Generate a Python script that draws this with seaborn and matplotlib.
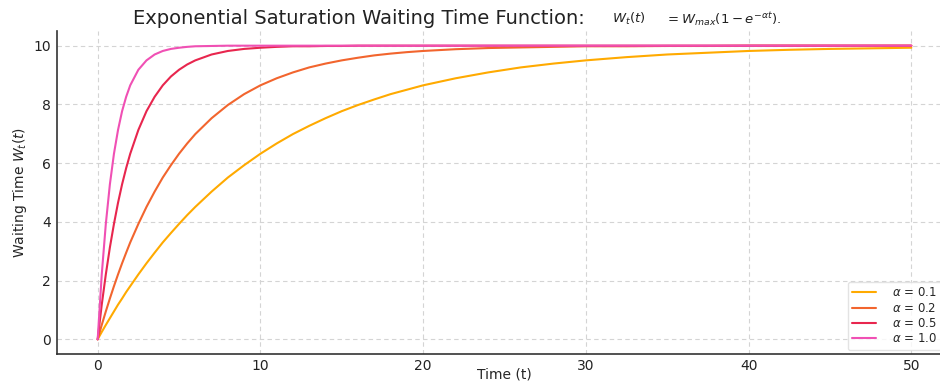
import numpy as np
import pandas as pd
import matplotlib
matplotlib.use("Agg")
import matplotlib.pyplot as plt
import seaborn as sns

# Time samples (t) and waiting-time values
t_vals = [0, 0.25, 0.5, 0.75, 1, 1.25, 1.5, 1.75, 2,
          2.5, 3, 3.5, 4, 4.5, 5, 5.5, 6,
          7, 8, 9, 10, 11, 12, 13, 14, 15, 16, 17, 18, 19, 20,
          22, 24, 26, 28, 30,
          32.5, 35, 37.5, 40, 42.5, 45, 47.5, 50]
w_a01 = [0, 0.25, 0.49, 0.72, 0.95, 1.18, 1.39, 1.61, 1.81,
         2.21, 2.59, 2.95, 3.30, 3.62, 3.93, 4.23, 4.51,
         5.03, 5.51, 5.93, 6.32, 6.67, 6.99, 7.27, 7.53, 7.77, 7.98, 8.17, 8.35, 8.50, 8.65,
         8.89, 9.09, 9.26, 9.39, 9.50,
         9.61, 9.70, 9.76, 9.82, 9.86, 9.89, 9.91, 9.93]
w_a02 = [0, 0.49, 0.95, 1.39, 1.81, 2.21, 2.59, 2.95, 3.30,
         3.93, 4.51, 5.03, 5.51, 5.93, 6.32, 6.67, 6.99,
         7.53, 7.98, 8.35, 8.65, 8.89, 9.09, 9.26, 9.39, 9.50, 9.59, 9.67, 9.73, 9.78, 9.82,
         9.88, 9.92, 9.94, 9.96, 9.98,
         9.98, 9.99, 9.99, 10.0, 10.0, 10.0, 10.0, 10.0]
w_a05 = [0, 1.18, 2.21, 3.13, 3.93, 4.65, 5.28, 5.83, 6.32,
         7.13, 7.77, 8.26, 8.65, 8.95, 9.18, 9.36, 9.50,
         9.70, 9.82, 9.89, 9.93, 9.96, 9.98, 9.98, 9.99, 9.99, 10.0, 10.0, 10.0, 10.0, 10.0,
         10.0, 10.0, 10.0, 10.0, 10.0,
         10.0, 10.0, 10.0, 10.0, 10.0, 10.0, 10.0, 10.0]
w_a10 = [0, 2.21, 3.93, 5.28, 6.32, 7.13, 7.77, 8.26, 8.65,
         9.18, 9.50, 9.70, 9.82, 9.89, 9.93, 9.96, 9.98,
         9.99, 10.0, 10.0, 10.0, 10.0, 10.0, 10.0, 10.0, 10.0, 10.0, 10.0, 10.0, 10.0, 10.0,
         10.0, 10.0, 10.0, 10.0, 10.0,
         10.0, 10.0, 10.0, 10.0, 10.0, 10.0, 10.0, 10.0]
series_labels = [r"$\alpha$ = 0.1", r"$\alpha$ = 0.2", r"$\alpha$ = 0.5", r"$\alpha$ = 1.0"]
series_colors = ["#FFAA00", "#F2652E", "#E8264E", "#F050B4"]

frames = []
for lab, vals in zip(series_labels, [w_a01, w_a02, w_a05, w_a10]):
    frames.append(pd.DataFrame({"t": t_vals, "W": vals, "series": lab}))
df = pd.concat(frames, ignore_index=True)

sns.set_style("white")
plt.rcParams["font.family"] = ["DejaVu Sans"]

fig = plt.figure(figsize=(9.4, 3.83), dpi=100)
ax = fig.add_axes([57 / 940, 1 - 354.0 / 383, 895 / 940, 323.0 / 383])

sns.lineplot(data=df, x="t", y="W", hue="series", hue_order=series_labels,
             palette=dict(zip(series_labels, series_colors)), linewidth=1.5,
             ax=ax, sort=False)

ax.set_xlim(-2.5, 52.5)
ax.set_ylim(-0.5, 10.5)
ax.set_xticks([0, 10, 20, 30, 40, 50])
ax.set_yticks([0, 2, 4, 6, 8, 10])
ax.grid(True, linestyle=(0, (4, 3)), color="#d4d4d4", linewidth=0.8)
for s in ["top", "right"]:
    ax.spines[s].set_visible(False)
for s in ["left", "bottom"]:
    ax.spines[s].set_color("#333333")
    ax.spines[s].set_linewidth(1.2)
ax.tick_params(axis="both", labelsize=10, colors="#333333", length=2.5, pad=2)
ax.tick_params(axis="x", pad=1)
ax.tick_params(axis="both", labelcolor="#222222")
ax.set_xlabel("Time (t)", fontsize=10)
ax.xaxis.set_label_coords(0.5, -0.043)
ax.set_ylabel(r"Waiting Time $W_t(t)$", fontsize=10, labelpad=3)

leg = ax.legend(loc="lower right", bbox_to_anchor=((942 - 57) / 895, 0.012),
                fontsize=8.5, frameon=True, borderaxespad=0.0,
                handlelength=2.0, handletextpad=1.4, labelspacing=0.2)
leg.get_frame().set_edgecolor("#dddddd")

fig.text(133 / 940, 1 - 19 / 383, "Exponential Saturation Waiting Time Function:",
         fontsize=14, color="#222222", ha="left", va="center")
fig.text(612 / 940, 1 - 19 / 383, r"$W_t(t)$",
         fontsize=9.5, color="#222222", ha="left", va="center")
fig.text(665 / 940, 1 - 19 / 383, r"$= W_{max}(1 - e^{-\alpha t}).$",
         fontsize=9.5, color="#222222", ha="left", va="center")

fig.savefig("out.png", dpi=100)
